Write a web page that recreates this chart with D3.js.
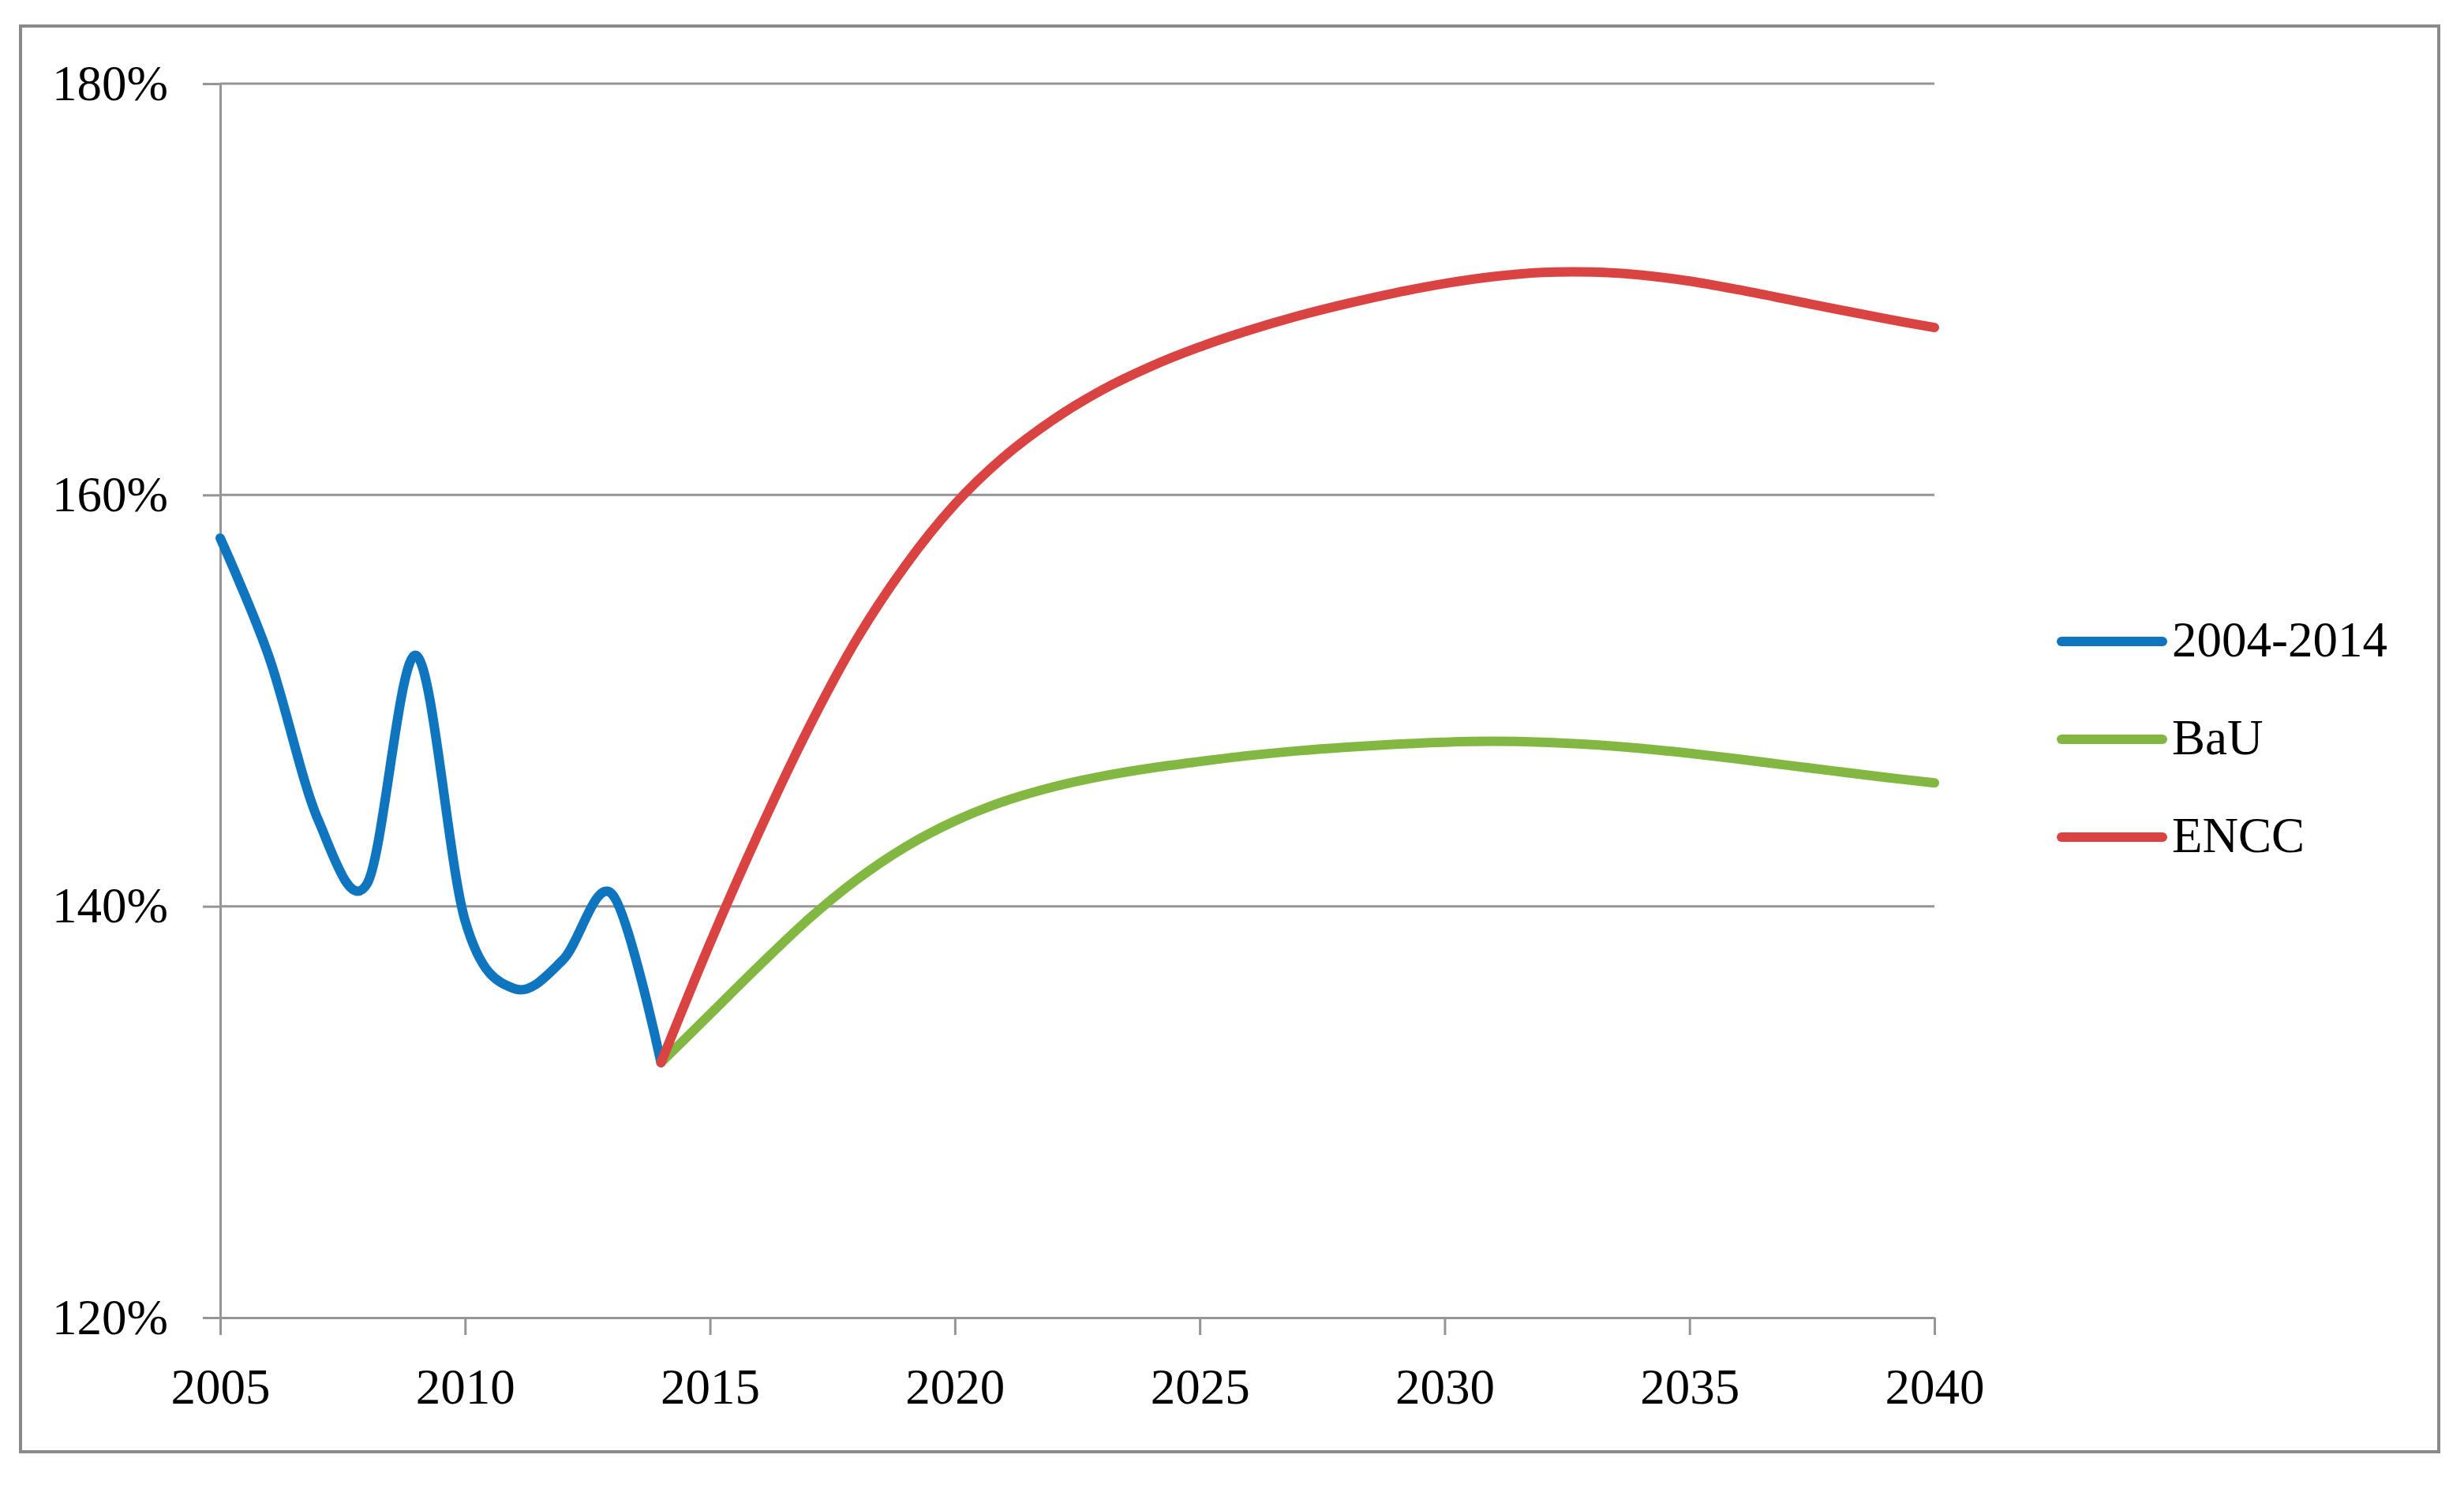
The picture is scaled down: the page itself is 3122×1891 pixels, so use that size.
<!DOCTYPE html>
<html>
<head>
<meta charset="utf-8">
<script src="https://cdn.jsdelivr.net/npm/d3@7/dist/d3.min.js"></script>
<style>
  html, body { margin: 0; padding: 0; background: #ffffff; }
  svg { display: block; }
  text { font-family: "Liberation Serif", "Times New Roman", serif; fill: #000; }
</style>
</head>
<body>
<svg id="chart" width="3122" height="1891"></svg>
<script>
// ---- data ----
const yearsHist = [2005, 2006, 2007, 2008, 2009, 2010, 2011, 2012, 2013, 2014];
const valuesHist = [157.9, 152.1, 144.2, 141.1, 152.2, 139.3, 136.0, 137.4, 140.6, 132.4];

const yearsProj = [2014, 2015, 2016, 2017, 2018, 2019, 2020, 2021, 2022, 2023, 2024, 2025, 2026,
                   2027, 2028, 2029, 2030, 2031, 2032, 2033, 2034, 2035, 2036, 2037, 2038, 2039, 2040];
const valuesBaU = [132.4, 134.75, 137.1, 139.35, 141.3, 142.9, 144.15, 145.1, 145.8, 146.32, 146.72, 147.04, 147.33,
                   147.56, 147.74, 147.88, 147.98, 148.02, 147.98, 147.86, 147.68, 147.44, 147.16, 146.86, 146.56, 146.27, 146.0];
const valuesENCC = [132.4, 138.2, 143.6, 148.6, 153.0, 156.6, 159.55, 161.85, 163.65, 165.1, 166.25, 167.2, 168.0,
                    168.7, 169.3, 169.83, 170.28, 170.62, 170.82, 170.84, 170.7, 170.4, 169.98, 169.51, 169.03, 168.57, 168.14];

const seriesNames = ["2004-2014", "BaU", "ENCC"];
const seriesColors = ["#0E75BE", "#82B841", "#D94341"];
const xTicks = [2005, 2010, 2015, 2020, 2025, 2030, 2035, 2040];
const yTicks = [120, 140, 160, 180];

// ---- layout ----
const svg = d3.select("#chart");
const plotL = 279, plotR = 2451, plotT = 106, plotB = 1670;
const fontSize = 63;

const x = d3.scaleLinear().domain([2005, 2040]).range([plotL, plotR]);
const y = d3.scaleLinear().domain([120, 180]).range([plotB, plotT]);

// outer border
svg.append("rect")
  .attr("x", 26).attr("y", 33).attr("width", 3064).attr("height", 1807)
  .attr("fill", "#fff").attr("stroke", "#8a8a8a").attr("stroke-width", 4);

// gridlines
svg.append("g").selectAll("line").data(yTicks.filter(d => d !== 120)).join("line")
  .attr("x1", plotL).attr("x2", plotR)
  .attr("y1", d => y(d)).attr("y2", d => y(d))
  .attr("stroke", "#959595").attr("stroke-width", 3);

// y axis
const yAxis = svg.append("g").attr("transform", `translate(${plotL},0)`)
  .call(d3.axisLeft(y).tickValues(yTicks).tickSize(22).tickSizeOuter(0).tickPadding(44)
    .tickFormat(d => d + "%"));
// x axis
const xAxis = svg.append("g").attr("transform", `translate(0,${plotB})`)
  .call(d3.axisBottom(x).tickValues(xTicks).tickSize(22).tickSizeOuter(0).tickPadding(42)
    .tickFormat(d3.format("d")));

[yAxis, xAxis].forEach(g => {
  g.selectAll("path.domain").attr("stroke", "#959595").attr("stroke-width", 3);
  g.selectAll(".tick line").attr("stroke", "#959595").attr("stroke-width", 3);
  g.selectAll(".tick text").style("font-size", fontSize + "px")
    .style("font-family", '"Liberation Serif", "Times New Roman", serif').attr("fill", "#000");
});

// lines
const line = d3.line().curve(d3.curveCardinal.tension(0)).x(d => x(d[0])).y(d => y(d[1]));
const seriesData = [
  d3.zip(yearsHist, valuesHist),
  d3.zip(yearsProj, valuesBaU),
  d3.zip(yearsProj, valuesENCC)
];
svg.append("g").selectAll("path").data(seriesData).join("path")
  .attr("d", d => line(d))
  .attr("fill", "none")
  .attr("stroke", (d, i) => seriesColors[i])
  .attr("stroke-width", 12)
  .attr("stroke-linejoin", "round")
  .attr("stroke-linecap", "round");

// legend
const legend = svg.append("g");
const legY0 = 813, legStep = 124;
seriesNames.forEach((name, i) => {
  const ly = legY0 + i * legStep;
  legend.append("line")
    .attr("x1", 2612).attr("x2", 2740).attr("y1", ly).attr("y2", ly)
    .attr("stroke", seriesColors[i]).attr("stroke-width", 12).attr("stroke-linecap", "round");
  legend.append("text")
    .attr("x", 2752).attr("y", ly).attr("dy", "0.3em")
    .style("font-size", fontSize + "px")
    .text(name);
});
</script>
</body>
</html>
